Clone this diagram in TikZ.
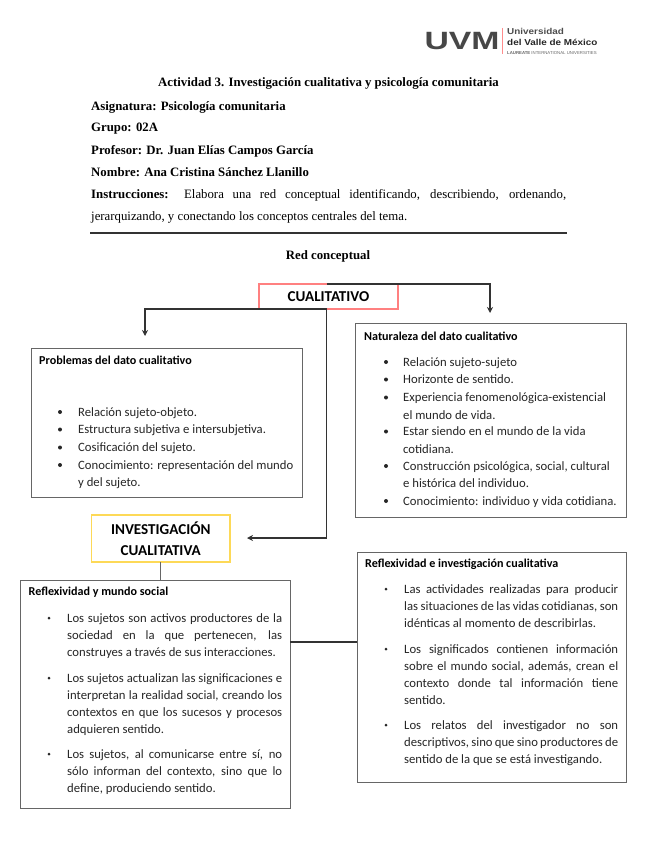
\documentclass[tikz,border=0pt]{standalone}
\usepackage{fontspec}
\setmainfont{Liberation Serif}
\setsansfont{Carlito}
\newfontfamily\logofont{Liberation Sans}
\usepackage{xcolor}
\usetikzlibrary{arrows.meta}

\tikzset{
  headline/.style={anchor=north west,inner sep=0pt,align=justify,text width=475pt,font=\fontsize{12.8}{22}\selectfont,execute at begin node=\strut},
  box/.style={draw=black!60,line width=1pt,fill=white,anchor=north west,inner sep=0pt,outer sep=0pt},
  conceptbox/.style={anchor=north west,inner sep=0pt,outer sep=0pt,line width=1.1pt,align=center,font=\sffamily\bfseries\fontsize{15.1}{21}\selectfont},
  boxtitle/.style={anchor=west,inner sep=0pt,font=\sffamily\bfseries\fontsize{12.1}{14}\selectfont},
  itemtext/.style={anchor=north west,inner sep=0pt,align=justify,font=\sffamily\fontsize{12.7}{17.1}\selectfont,text=black!85,execute at begin node=\strut},
  dot/.style={circle,fill=black!85,inner sep=0pt,minimum size=#1},
  conn/.style={draw=black!80,line width=1.2pt},
  connarrow/.style={conn,-{Stealth[length=6pt,width=6pt]}}
}

\begin{document}
\begin{tikzpicture}[x=1pt,y=-1pt]
  \useasboundingbox (0,0) rectangle (655,848);

  \node[inner sep=0pt,anchor=center,font=\logofont\bfseries\fontsize{25}{25}\selectfont,text=black!72,xscale=1.35] (uvm) at (462,41) {UVM};
  \draw[red!45,line width=.6pt] (502,28) -- (502,54);
  \node[anchor=west,inner sep=0pt,font=\logofont\bfseries\fontsize{8.6}{9}\selectfont,text=black!70,xscale=1.15] (uni) at (507,31.5) {Universidad};
  \node[anchor=west,inner sep=0pt,font=\logofont\bfseries\fontsize{8.6}{9}\selectfont,text=black!85,xscale=1.15] (valle) at (507,42) {del Valle de México};
  \node[anchor=west,inner sep=0pt,font=\logofont\fontsize{4.3}{4.5}\selectfont,text=black!60] (laur) at (507,53) {\textbf{LAUREATE} INTERNATIONAL UNIVERSITIES};

  \node[inner sep=0pt,font=\bfseries\fontsize{12.8}{14}\selectfont] (titulo) at (328.5,83) {Actividad 3. Investigación cualitativa y psicología comunitaria};
  \foreach \ypos/\txt in {106/{Asignatura: Psicología comunitaria},127/{Grupo: 02A},150/{Profesor: Dr. Juan Elías Campos García},172/{Nombre: Ana Cristina Sánchez Llanillo}}{
    \node[headline,font=\bfseries\fontsize{12.8}{22}\selectfont] (dato\ypos) at (91,\ypos-11) {\txt};
  }
  \node[headline] (instr) at (91,183) {\textbf{Instrucciones:} Elabora una red conceptual identificando, describiendo, ordenando,\linebreak jerarquizando, y conectando los conceptos centrales del tema.};
  \coordinate (ruleleft) at (90,233);
  \coordinate (ruleright) at (567,233);
  \draw[black!80,line width=1.5pt] (ruleleft) -- (ruleright);
  \node[inner sep=0pt,font=\bfseries\fontsize{12.8}{14}\selectfont] (red) at (328,256) {Red conceptual};

  \node[box,minimum width=271pt,minimum height=149pt] (prob) at (31,348) {};
  \node[box,minimum width=271pt,minimum height=194pt] (natur) at (355.5,323) {};
  \node[box,minimum width=270pt,minimum height=228pt] (refm) at (20,580) {};
  \node[box,minimum width=269.5pt,minimum height=230pt] (refi) at (357,552) {};
  \node[conceptbox,draw=red!50,minimum width=139pt,minimum height=25pt] (cual) at (259,284) {CUALITATIVO};
  \node[conceptbox,draw=yellow!60!orange!65,minimum width=138.5pt,minimum height=47pt] (inv) at (91.5,515) {INVESTIGACIÓN\\CUALITATIVA};

  \coordinate (cualeje) at (326.5,296);
  \coordinate (naturtip) at (490,313);
  \coordinate (probtip) at (145,336);
  \coordinate (invtip) at (247,538);
  \coordinate (enlace) at (320,642);
  \draw[connarrow] (cualeje |- cual.north) -| (naturtip);
  \draw[connarrow] (cualeje |- cual.south) -| (probtip);
  \draw[connarrow] (cualeje |- cual.south) |- (invtip);
  \draw[draw=black!60,line width=1pt] (inv.south) -- (inv.south |- refm.north);
  \draw[conn] (enlace -| refm.east) -- (enlace -| refi.west);

  \node[boxtitle] (probt) at (39,360.5) {Problemas del dato cualitativo};
  \foreach \ypos/\txt in {412/{Relación sujeto-objeto.},429.5/{Estructura subjetiva e intersubjetiva.},447.5/{Cosificación del sujeto.},465/{Conocimiento: representación del mundo\\y del sujeto.}}{
    \node[dot=4pt] (pb\ypos) at (60,\ypos) {};
    \node[itemtext,text width=222pt] (pi\ypos) at (78,\ypos-7.7) {\txt};
  }

  \node[boxtitle] (natt) at (364,336) {Naturaleza del dato cualitativo};
  \foreach \ypos/\txt in {362/{Relación sujeto-sujeto},379.5/{Horizonte de sentido.},397.5/{Experiencia fenomenológica-existencial\\el mundo de vida.},431.5/{Estar siendo en el mundo de la vida\\cotidiana.},466/{Construcción psicológica, social, cultural\\e histórica del individuo.},501/{Conocimiento: individuo y vida cotidiana.}}{
    \node[dot=4pt] (nb\ypos) at (386,\ypos) {};
    \node[itemtext,text width=220pt] (ni\ypos) at (403,\ypos-7.7) {\txt};
  }

  \node[boxtitle] (refmt) at (28.5,592.5) {Reflexividad y mundo social};
  \foreach \ypos/\txt in {618/{Los sujetos son activos productores de la\linebreak sociedad en la que pertenecen, las\linebreak construyes a través de sus interacciones.},678/{Los sujetos actualizan las significaciones e\linebreak interpretan la realidad social, creando los\linebreak contextos en que los sucesos y procesos\linebreak adquieren sentido.},754/{Los sujetos, al comunicarse entre sí, no\linebreak sólo informan del contexto, sino que lo\linebreak define, produciendo sentido.}}{
    \node[dot=3pt] (mb\ypos) at (49,\ypos) {};
    \node[itemtext,text width=215pt] (mi\ypos) at (67,\ypos-7.7) {\txt};
  }

  \node[boxtitle] (refit) at (365,564) {Reflexividad e investigación cualitativa};
  \foreach \ypos/\txt in {589/{Las actividades realizadas para producir\linebreak las situaciones de las vidas cotidianas, son\linebreak idénticas al momento de describirlas.},649/{Los significados contienen información\linebreak sobre el mundo social, además, crean el\linebreak contexto donde tal información tiene\linebreak sentido.},725/{Los relatos del investigador no son\linebreak descriptivos, sino que sino productores de\linebreak sentido de la que se está investigando.}}{
    \node[dot=3pt] (ib\ypos) at (386,\ypos) {};
    \node[itemtext,text width=214pt] (ii\ypos) at (404,\ypos-7.7) {\txt};
  }
\end{tikzpicture}
\end{document}
